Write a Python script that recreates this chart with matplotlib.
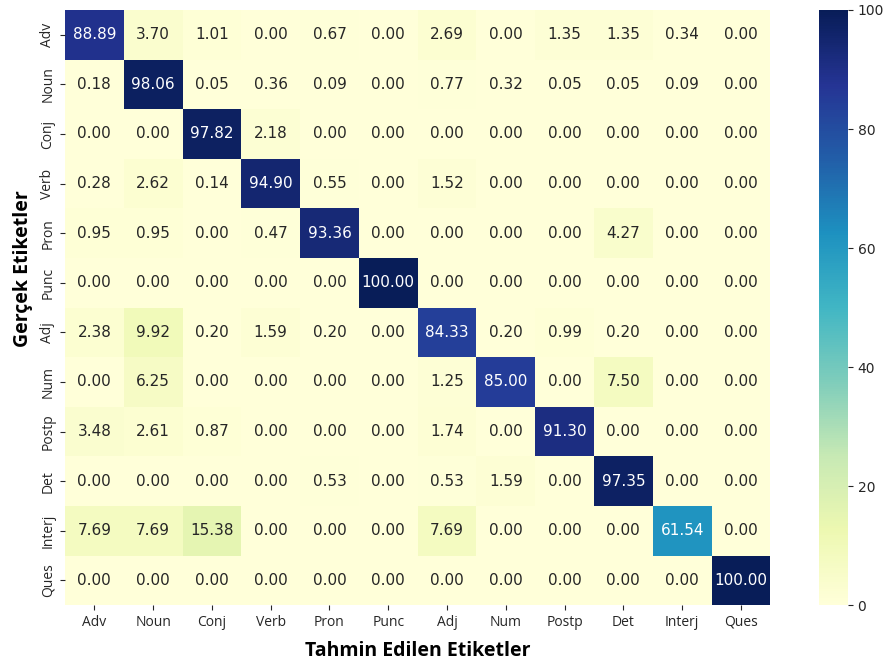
import numpy as np
import matplotlib
matplotlib.use("Agg")
import matplotlib.pyplot as plt
import seaborn as sns

labels = ["Adv", "Noun", "Conj", "Verb", "Pron", "Punc", "Adj", "Num", "Postp", "Det", "Interj", "Ques"]

cm = np.array([
    [88.89, 3.70, 1.01, 0.00, 0.67, 0.00, 2.69, 0.00, 1.35, 1.35, 0.34, 0.00],
    [0.18, 98.06, 0.05, 0.36, 0.09, 0.00, 0.77, 0.32, 0.05, 0.05, 0.09, 0.00],
    [0.00, 0.00, 97.82, 2.18, 0.00, 0.00, 0.00, 0.00, 0.00, 0.00, 0.00, 0.00],
    [0.28, 2.62, 0.14, 94.90, 0.55, 0.00, 1.52, 0.00, 0.00, 0.00, 0.00, 0.00],
    [0.95, 0.95, 0.00, 0.47, 93.36, 0.00, 0.00, 0.00, 0.00, 4.27, 0.00, 0.00],
    [0.00, 0.00, 0.00, 0.00, 0.00, 100.00, 0.00, 0.00, 0.00, 0.00, 0.00, 0.00],
    [2.38, 9.92, 0.20, 1.59, 0.20, 0.00, 84.33, 0.20, 0.99, 0.20, 0.00, 0.00],
    [0.00, 6.25, 0.00, 0.00, 0.00, 0.00, 1.25, 85.00, 0.00, 7.50, 0.00, 0.00],
    [3.48, 2.61, 0.87, 0.00, 0.00, 0.00, 1.74, 0.00, 91.30, 0.00, 0.00, 0.00],
    [0.00, 0.00, 0.00, 0.00, 0.53, 0.00, 0.53, 1.59, 0.00, 97.35, 0.00, 0.00],
    [7.69, 7.69, 15.38, 0.00, 0.00, 0.00, 7.69, 0.00, 0.00, 0.00, 61.54, 0.00],
    [0.00, 0.00, 0.00, 0.00, 0.00, 0.00, 0.00, 0.00, 0.00, 0.00, 0.00, 100.00],
])

fig = plt.figure(figsize=(8.85, 6.65), dpi=100)
ax = fig.add_axes([0.0734, 0.090, 0.797, 0.895])
cax = fig.add_axes([0.925, 0.090, 0.033, 0.895])

sns.heatmap(cm, annot=True, fmt=".2f", cmap="YlGnBu", vmin=0, vmax=100,
            xticklabels=labels, yticklabels=labels, ax=ax, cbar_ax=cax,
            annot_kws={"size": 11, "family": "DejaVu Sans"})

ax.tick_params(axis="both", labelsize=10, colors="#262626", labelcolor="#262626")
for t in ax.get_xticklabels() + ax.get_yticklabels():
    t.set_fontfamily("Open Sans")
ax.set_xlabel("Tahmin Edilen Etiketler", fontsize=14, fontweight="bold", family="Open Sans", labelpad=8)
ax.set_ylabel("Gerçek Etiketler", fontsize=14, fontweight="bold", family="Open Sans")
ax.yaxis.set_label_coords(-0.045, 0.566)

cbar = ax.collections[0].colorbar
cbar.ax.tick_params(labelsize=10, colors="#262626")
cbar.outline.set_visible(False)

fig.savefig("out.png", dpi=100)
